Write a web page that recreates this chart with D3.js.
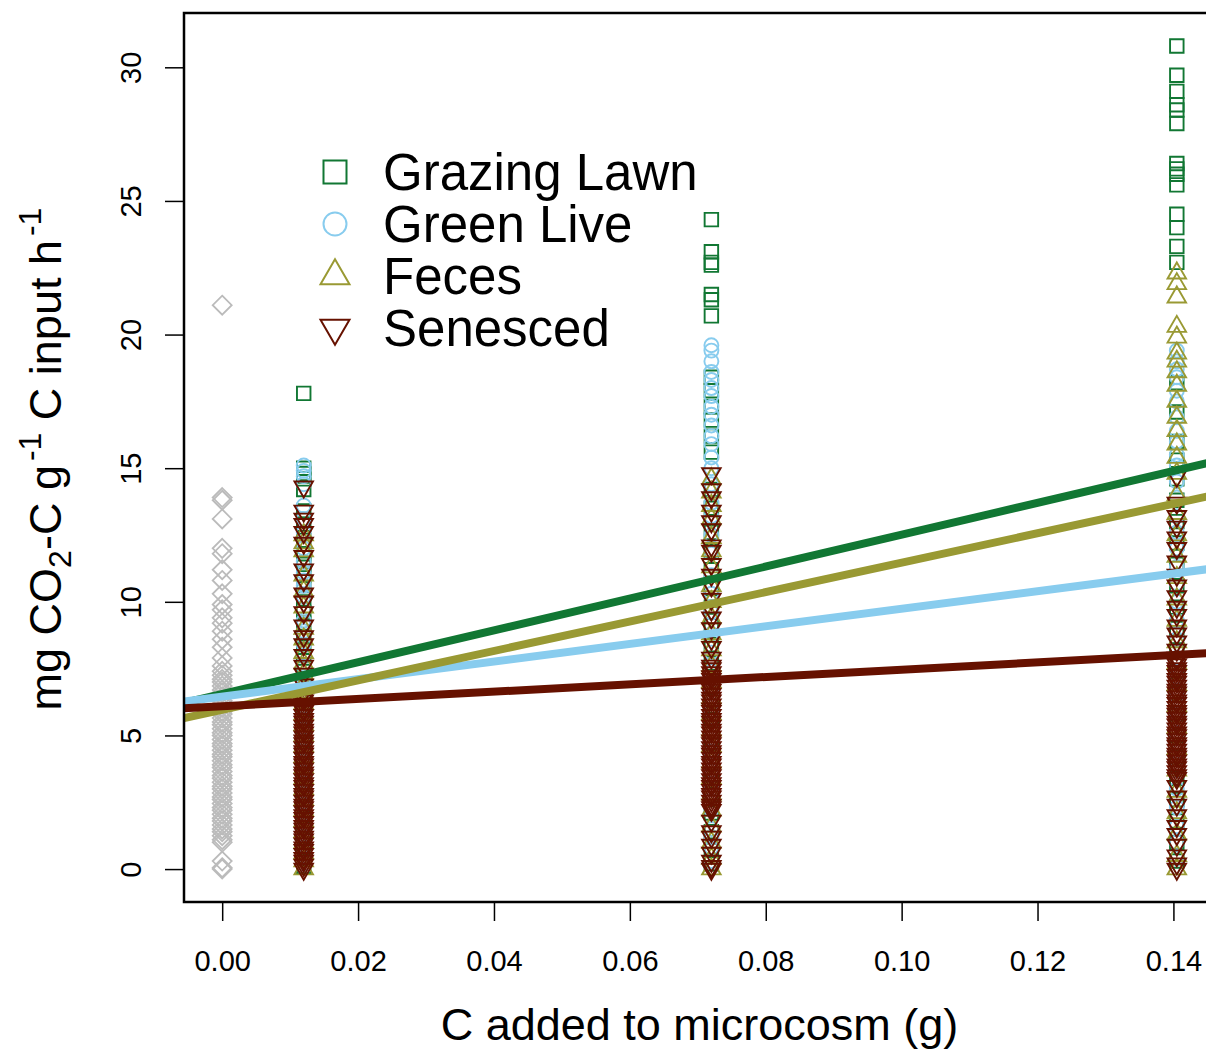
<!DOCTYPE html>
<html><head><meta charset="utf-8">
<script src="https://cdn.jsdelivr.net/npm/d3@7"></script>
<style>body{margin:0;background:#fff} svg{display:block} text{font-family:"Liberation Sans",Arial,Helvetica,sans-serif}</style>
</head><body>
<svg id="chart" width="1206" height="1050"></svg>
<script>
// ---------- data ----------
const seriesNames = ["Grazing Lawn", "Green Live", "Feces", "Senesced"];
const seriesColors = ["#117733", "#88CCEE", "#999933", "#661100"];
const seriesShapes = ["square", "circle", "triUp", "triDown"];
const controlColor = "#BBBBBB";
const controlDose = 0;
const doseLevels = [0.012, 0.072, 0.1405];
const xTicks = [0, 0.02, 0.04, 0.06, 0.08, 0.10, 0.12, 0.14];
const yTicks = [0, 5, 10, 15, 20, 25, 30];

const controlValues = [21.1, 13.9, 13.8, 13.1, 12.0, 11.8, 11.2, 10.8, 10.3, 9.9, 9.7, 9.4, 9.2, 8.9, 8.6, 8.3, 7.9, 7.6, 7.4, 7.25, 7.1, 7.0, 6.85, 6.7, 6.6, 6.45, 6.3, 6.2, 6.05, 5.9, 5.8, 5.65, 5.5, 5.4, 5.25, 5.1, 5.0, 4.85, 4.7, 4.6, 4.45, 4.3, 4.2, 4.05, 3.9, 3.8, 3.65, 3.5, 3.4, 3.25, 3.1, 3.0, 2.85, 2.7, 2.6, 2.45, 2.3, 2.2, 2.05, 1.9, 1.8, 1.65, 1.5, 1.4, 1.25, 1.1, 1.0, 0.3, 0.05, 0.0];

const grazingLawn012 = [17.8, 15.0, 14.8, 14.6, 14.2, 13.4, 12.9, 12.3, 11.8, 11.4, 11.0, 10.5, 10.1, 9.6, 9.2, 8.7, 8.3, 7.9, 7.5, 7.1, 6.8, 6.4, 6.0, 5.6, 5.2, 4.8, 4.4, 4.0, 3.6, 3.2, 2.8, 2.4, 2.0, 1.6, 1.2, 0.8, 0.4, 0.1];
const grazingLawn072 = [24.3, 23.1, 22.7, 22.6, 21.5, 21.3, 20.7, 18.4, 17.9, 17.3, 16.8, 16.2, 15.6, 14.2, 13.5, 12.6, 11.9, 11.2, 10.5, 9.8, 9.1, 8.4, 7.7, 7.0, 6.3, 5.6, 4.9, 4.2, 3.5, 2.8, 2.1, 1.4, 0.7, 0.2];
const grazingLawn140 = [30.8, 29.7, 29.1, 28.6, 28.4, 27.9, 26.4, 26.2, 26.0, 25.6, 24.5, 24.0, 23.3, 22.7, 18.2, 17.1, 16.0, 15.3, 14.6, 13.8, 13.0, 12.2, 11.4, 10.6, 9.8, 9.0, 8.2, 7.4, 6.6, 5.8, 5.0, 4.2, 3.4, 2.6, 1.8, 1.0, 0.3];

const greenLive012 = [15.1, 14.9, 14.7, 14.4, 13.6, 13.1, 12.6, 12.0, 11.5, 11.1, 10.8, 10.6, 10.2, 9.7, 9.3, 8.9, 8.4, 8.0, 7.6, 7.2, 6.9, 6.5, 6.1, 5.7, 5.3, 4.9, 4.5, 4.1, 3.7, 3.3, 2.9, 2.5, 2.1, 1.7, 1.3, 0.9, 0.5, 0.2];
const greenLive072 = [19.6, 19.4, 19.0, 18.6, 18.3, 18.0, 17.7, 17.3, 17.0, 16.6, 16.2, 15.9, 15.4, 15.0, 14.4, 13.7, 13.2, 12.5, 11.8, 11.0, 10.3, 9.6, 8.8, 8.1, 7.4, 6.6, 5.9, 5.2, 4.4, 3.7, 3.0, 2.2, 1.5, 1.2, 0.8, 0.3];
const greenLive140 = [19.4, 19.0, 18.7, 18.4, 17.9, 17.5, 16.9, 16.4, 16.0, 15.5, 15.1, 14.5, 13.9, 13.2, 12.6, 12.0, 11.3, 10.7, 10.0, 9.3, 8.6, 7.9, 7.2, 6.5, 5.8, 5.1, 4.4, 3.7, 3.0, 2.3, 1.6, 1.0, 0.4];

const feces012 = [12.5, 12.2, 11.9, 11.0, 10.4, 9.8, 9.0, 8.6, 8.1, 7.7, 7.3, 6.9, 6.6, 6.2, 5.8, 5.4, 5.0, 4.6, 4.2, 3.8, 3.4, 3.0, 2.6, 2.2, 1.8, 1.4, 1.0, 0.6, 0.3, 0.0];
const feces072 = [14.6, 14.1, 13.6, 13.1, 12.4, 11.9, 11.3, 10.6, 10.0, 9.4, 8.8, 8.2, 7.6, 7.0, 6.4, 5.8, 5.2, 4.6, 4.0, 3.4, 2.8, 2.2, 1.6, 1.0, 0.4, 0.0];
const feces140 = [22.3, 21.9, 21.4, 20.3, 19.9, 19.3, 19.0, 18.6, 18.1, 17.5, 16.9, 16.4, 15.9, 15.4, 14.8, 14.0, 13.3, 12.5, 11.7, 10.9, 10.1, 9.3, 8.5, 7.7, 6.9, 6.1, 5.3, 4.5, 3.7, 2.9, 2.1, 1.3, 0.5, 0.0];

const senesced012 = [14.3, 13.4, 13.1, 12.9, 12.6, 12.2, 11.7, 11.2, 10.8, 10.3, 10.0, 9.6, 9.1, 8.7, 8.4, 8.0, 7.6, 7.3, 6.9, 6.6, 6.4, 6.3, 6.15, 6.0, 5.9, 5.75, 5.6, 5.5, 5.35, 5.2, 5.1, 4.95, 4.8, 4.7, 4.55, 4.4, 4.3, 4.15, 4.0, 3.9, 3.75, 3.6, 3.5, 3.35, 3.2, 3.1, 2.95, 2.8, 2.7, 2.55, 2.4, 2.3, 2.15, 2.0, 1.9, 1.75, 1.6, 1.5, 1.35, 1.2, 1.1, 0.95, 0.8, 0.7, 0.55, 0.4, 0.3, 0.15, 0.0];
const senesced072 = [14.8, 14.2, 13.9, 13.4, 13.0, 12.7, 12.1, 11.9, 11.4, 11.0, 10.6, 10.1, 9.7, 9.4, 9.0, 8.6, 8.3, 7.9, 7.6, 7.5, 7.35, 7.2, 7.1, 6.95, 6.8, 6.7, 6.55, 6.4, 6.3, 6.15, 6.0, 5.9, 5.75, 5.6, 5.5, 5.35, 5.2, 5.1, 4.95, 4.8, 4.7, 4.55, 4.4, 4.3, 4.15, 4.0, 3.9, 3.75, 3.6, 3.5, 3.35, 3.2, 3.1, 2.95, 2.8, 2.7, 2.55, 2.4, 2.3, 2.2, 1.8, 1.4, 1.2, 0.9, 0.6, 0.3, 0.1, 0.0];
const senesced140 = [14.7, 13.7, 13.2, 12.8, 12.4, 12.0, 11.5, 11.0, 10.6, 10.2, 9.8, 9.5, 9.1, 8.8, 8.5, 8.2, 7.9, 7.8, 7.65, 7.5, 7.4, 7.25, 7.1, 7.0, 6.85, 6.7, 6.6, 6.45, 6.3, 6.2, 6.05, 5.9, 5.8, 5.65, 5.5, 5.4, 5.25, 5.1, 5.0, 4.85, 4.7, 4.6, 4.45, 4.3, 4.2, 4.05, 3.9, 3.8, 3.65, 3.5, 3.4, 3.1, 2.7, 2.4, 2.0, 1.6, 1.3, 0.9, 0.5, 0.2, 0.0];

const fitIntercepts = [6.55, 6.45, 5.96, 6.09];
const fitSlopes = [59.6, 32.9, 55.05, 13.7];

const seriesValues = [
  [grazingLawn012, grazingLawn072, grazingLawn140],
  [greenLive012, greenLive072, greenLive140],
  [feces012, feces072, feces140],
  [senesced012, senesced072, senesced140]
];

// ---------- layout ----------
const L = 184, R = 1215, T = 13, B = 902;
const x = d3.scaleLinear().domain([-0.00562, 0.14612]).range([L, R]);
const y = d3.scaleLinear().domain([-1.232, 32.032]).range([B, T]);

const svg = d3.select("#chart");
svg.append("defs").append("clipPath").attr("id", "plotclip")
  .append("rect").attr("x", L).attr("y", T).attr("width", R - L).attr("height", B - T);

function shapePath(shape, cx, cy, s) {
  if (shape === "square") {
    const h = s / 2;
    return `M${cx - h},${cy - h}h${s}v${s}h${-s}Z`;
  }
  if (shape === "triUp" || shape === "triDown") {
    const w = s, hh = w * 0.866, sgn = shape === "triUp" ? 1 : -1;
    const tipY = cy - sgn * 2 * hh / 3, baseY = cy + sgn * hh / 3;
    return `M${cx},${tipY}L${cx + w / 2},${baseY}L${cx - w / 2},${baseY}Z`;
  }
  if (shape === "diamond") {
    return `M${cx},${cy - s}L${cx + s},${cy}L${cx},${cy + s}L${cx - s},${cy}Z`;
  }
  const r = s;
  return `M${cx - r},${cy}a${r},${r} 0 1,0 ${2 * r},0a${r},${r} 0 1,0 ${-2 * r},0Z`;
}
const pointSize = { square: 13.5, circle: 7, triUp: 18.5, triDown: 18.5, diamond: 9.5 };

const plot = svg.append("g").attr("clip-path", "url(#plotclip)");

plot.append("g").selectAll("path").data(controlValues).join("path")
  .attr("d", v => shapePath("diamond", x(controlDose), y(v), pointSize.diamond))
  .attr("fill", "none").attr("stroke", controlColor).attr("stroke-width", 1.8);

seriesValues.forEach((levels, si) => {
  const g = plot.append("g");
  const pts = [];
  levels.forEach((vals, li) => vals.forEach(v => pts.push([doseLevels[li], v])));
  g.selectAll("path").data(pts).join("path")
    .attr("d", d => shapePath(seriesShapes[si], x(d[0]), y(d[1]), pointSize[seriesShapes[si]]))
    .attr("fill", "none").attr("stroke", seriesColors[si]).attr("stroke-width", 1.9);
});

const xd = x.domain();
fitIntercepts.forEach((a, i) => {
  const b = fitSlopes[i];
  plot.append("line")
    .attr("x1", x(xd[0])).attr("y1", y(a + b * xd[0]))
    .attr("x2", x(xd[1])).attr("y2", y(a + b * xd[1]))
    .attr("stroke", seriesColors[i]).attr("stroke-width", 8);
});

svg.append("rect").attr("x", L).attr("y", T).attr("width", R - L).attr("height", B - T)
  .attr("fill", "none").attr("stroke", "#000").attr("stroke-width", 2.5);

const yAxis = svg.append("g").attr("transform", `translate(${L},0)`)
  .call(d3.axisLeft(y).tickValues(yTicks).tickSize(19).tickSizeOuter(0).tickFormat(d3.format("d")));
yAxis.select(".domain").remove();
yAxis.selectAll(".tick line").attr("stroke-width", 1.5);
yAxis.selectAll(".tick text")
  .attr("x", null).attr("dy", null)
  .attr("transform", "translate(-43,0) rotate(-90)")
  .attr("text-anchor", "middle")
  .attr("font-size", 29).attr("fill", "#000")
  .style("font-family", '"Liberation Sans",Arial,sans-serif');

const xAxis = svg.append("g").attr("transform", `translate(0,${B})`)
  .call(d3.axisBottom(x).tickValues(xTicks).tickSize(19).tickSizeOuter(0).tickFormat(d3.format(".2f")));
xAxis.select(".domain").remove();
xAxis.selectAll(".tick line").attr("stroke-width", 1.5);
xAxis.selectAll(".tick text")
  .attr("y", 69).attr("dy", null)
  .attr("font-size", 29).attr("fill", "#000")
  .style("font-family", '"Liberation Sans",Arial,sans-serif');

svg.append("text").attr("x", (L + R) / 2).attr("y", 1040)
  .attr("text-anchor", "middle").attr("font-size", 45).text("C added to microcosm (g)");

const yt = svg.append("text").attr("transform", "translate(61,459) rotate(-90)")
  .attr("text-anchor", "middle").attr("font-size", 45);
yt.append("tspan").text("mg CO");
yt.append("tspan").attr("font-size", 32).attr("dy", 10).text("2");
yt.append("tspan").attr("dy", -10).text("-C g");
yt.append("tspan").attr("font-size", 32).attr("dy", -20).attr("dx", 4).text("-1");
yt.append("tspan").attr("dy", 20).text(" C input h");
yt.append("tspan").attr("font-size", 32).attr("dy", -20).attr("dx", 4).text("-1");

const legendSize = { square: 23, circle: 11.5, triUp: 29, triDown: 29 };
seriesNames.forEach((name, i) => {
  const cy = 172 + i * 52;
  svg.append("path").attr("d", shapePath(seriesShapes[i], 335, cy, legendSize[seriesShapes[i]]))
    .attr("fill", "none").attr("stroke", seriesColors[i]).attr("stroke-width", 2);
  svg.append("text").attr("x", 383).attr("y", cy + 18).attr("font-size", 51).text(name);
});
</script>
</body></html>
